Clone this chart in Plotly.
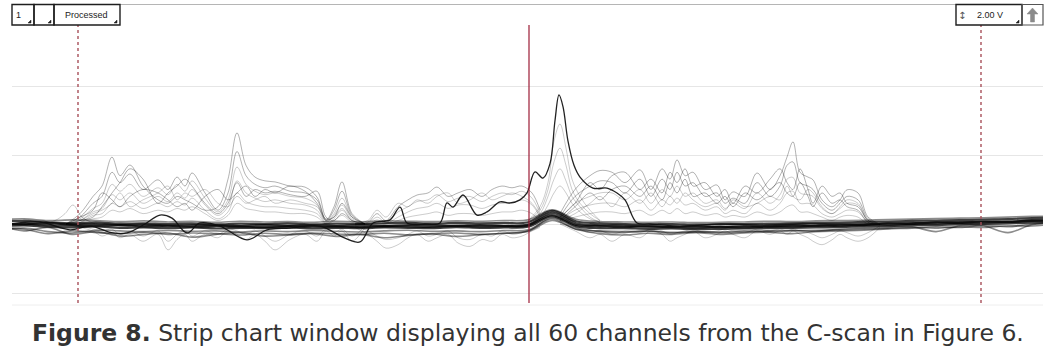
import plotly.graph_objects as go

# ---------------- data (x = sample position, y = volts) ----------------
base_x = [0, 24, 48, 72, 96, 120, 144, 168, 192, 216, 240, 264, 288, 312, 336, 360, 384, 408, 432, 456,
          480, 504, 528, 552, 576, 600, 624, 648, 672, 696, 720, 744, 768, 792, 816, 840, 864, 888, 912,
          936, 960, 984, 1008, 1032, 1056]
chan_base1 = [0.06, 0.09, 0.05, 0.02, 0.05, 0.01, 0.02, 0.0, 0.02, -0.01, 0.01, 0.0, 0.02, -0.01, 0.01, 0.0, 0.02, 0.03, 0.01, 0.03, 0.02, 0.03, 0.05, 0.38, 0.08, 0.02, 0.0, -0.01, 0.0, -0.02, -0.01, 0.0, 0.01, 0.02, 0.03, 0.04, 0.06, 0.07, 0.09, 0.1, 0.11, 0.13, 0.14, 0.17, 0.18]
chan_base2 = [-0.07, -0.04, -0.08, -0.1, -0.07, -0.11, -0.1, -0.12, -0.1, -0.13, -0.11, -0.12, -0.1, -0.13, -0.11, -0.12, -0.1, -0.11, -0.12, -0.09, -0.11, -0.1, -0.08, 0.22, -0.06, -0.12, -0.12, -0.14, -0.13, -0.15, -0.14, -0.13, -0.12, -0.11, -0.1, -0.09, -0.07, -0.06, -0.04, -0.03, -0.01, 0.0, 0.02, 0.04, 0.06]
chan_base3 = [0.02, -0.01, 0.03, -0.02, 0.0, -0.03, -0.02, -0.05, -0.03, -0.04, -0.06, -0.03, -0.05, -0.04, -0.06, -0.04, -0.06, -0.03, -0.04, -0.05, -0.03, -0.05, -0.02, 0.32, 0.02, -0.04, -0.05, -0.06, -0.08, -0.06, -0.09, -0.06, -0.07, -0.04, -0.05, -0.02, -0.03, 0.02, 0.0, 0.05, 0.03, 0.08, 0.06, 0.11, 0.1]
chan_base4 = [-0.02, 0.01, -0.03, -0.04, -0.05, -0.03, -0.07, -0.05, -0.08, -0.06, -0.07, -0.09, -0.06, -0.08, -0.07, -0.09, -0.06, -0.07, -0.08, -0.05, -0.07, -0.06, -0.04, 0.26, -0.03, -0.06, -0.08, -0.08, -0.09, -0.1, -0.08, -0.1, -0.07, -0.07, -0.05, -0.05, -0.02, -0.02, 0.01, 0.02, 0.04, 0.05, 0.07, 0.09, 0.1]
chan_base5 = [0.12, 0.15, 0.1, 0.12, 0.1, 0.07, 0.09, 0.06, 0.08, 0.05, 0.08, 0.06, 0.07, 0.05, 0.08, 0.06, 0.09, 0.08, 0.07, 0.09, 0.08, 0.1, 0.12, 0.41, 0.14, 0.07, 0.06, 0.05, 0.06, 0.04, 0.05, 0.06, 0.08, 0.07, 0.09, 0.1, 0.11, 0.13, 0.14, 0.16, 0.17, 0.18, 0.2, 0.22, 0.23]
chan_base6 = [-0.18, -0.12, -0.22, -0.26, -0.18, -0.2, -0.22, -0.19, -0.21, -0.2, -0.23, -0.2, -0.22, -0.19, -0.21, -0.23, -0.2, -0.18, -0.21, -0.2, -0.22, -0.19, -0.17, 0.15, -0.15, -0.2, -0.22, -0.21, -0.24, -0.22, -0.23, -0.2, -0.22, -0.2, -0.18, -0.17, -0.15, -0.13, -0.1, -0.12, -0.08, -0.1, -0.05, -0.06, 0.0]
chan_base7 = [-0.1, -0.15, -0.28, -0.2, -0.25, -0.28, -0.24, -0.3, -0.26, -0.28, -0.32, -0.27, -0.3, -0.26, -0.29, -0.3, -0.27, -0.31, -0.28, -0.26, -0.3, -0.27, -0.2, 0.18, -0.1, -0.22, -0.25, -0.2, -0.26, -0.22, -0.25, -0.23, -0.2, -0.18, -0.21, -0.15, -0.12, -0.1, -0.08, -0.22, -0.05, -0.06, -0.25, -0.02, 0.02]
chan_base8 = [-0.05, -0.2, -0.1, -0.3, -0.22, -0.35, -0.3, -0.26, -0.38, -0.3, -0.25, -0.35, -0.32, -0.28, -0.36, -0.3, -0.4, -0.33, -0.29, -0.36, -0.31, -0.27, -0.22, 0.1, -0.15, -0.28, -0.32, -0.27, -0.3, -0.25, -0.3, -0.26, -0.24, -0.28, -0.22, -0.2, -0.18, -0.14, -0.12, -0.08, -0.1, -0.04, -0.08, 0.0, 0.05]

region_l_x = [40, 55, 65, 73, 82, 95]
chan_l1 = [0.0, 0.1, 0.3, 0.55, 0.2, 0.0]

region_a_x = [66, 80, 93, 102, 112, 120, 130, 143, 158, 168, 177, 185, 192, 205, 218, 228, 237, 246, 255,
              265, 275, 290, 305, 317, 326, 334, 342, 352, 365]
chan_a1 = [0.0, 0.3, 0.8, 1.1, 1.94, 1.4, 1.71, 1.1, 0.7, 0.6, 0.8, 0.7, 0.6, 0.4, 0.5, 1.3, 2.64, 1.7, 1.36, 1.25, 1.22, 1.1, 1.07, 0.78, 0.12, 0.5, 1.22, 0.3, 0.0]
chan_a2 = [0.0, 0.2, 0.6, 0.8, 1.5, 1.2, 1.45, 1.0, 1.28, 1.0, 1.36, 1.1, 1.48, 0.9, 0.4, 0.9, 2.1, 1.4, 1.15, 1.05, 1.1, 0.95, 0.9, 0.7, 0.1, 0.4, 0.95, 0.25, 0.0]
chan_a3 = [0.0, 0.15, 0.45, 0.6, 1.15, 0.95, 1.15, 0.8, 1.05, 0.85, 1.15, 0.95, 1.25, 0.75, 0.35, 0.7, 1.65, 1.15, 0.95, 0.85, 0.9, 0.8, 0.75, 0.55, 0.08, 0.3, 0.75, 0.2, 0.0]
chan_a4 = [0.0, 0.1, 0.35, 0.45, 0.85, 0.7, 0.9, 0.6, 0.8, 0.65, 0.9, 0.75, 1.0, 0.55, 0.25, 0.5, 1.25, 0.9, 0.75, 0.65, 0.7, 0.6, 0.55, 0.4, 0.05, 0.25, 0.55, 0.15, 0.0]
chan_a5 = [0.0, 0.05, 0.25, 0.3, 0.6, 0.5, 0.65, 0.45, 0.6, 0.5, 0.65, 0.55, 0.75, 0.4, 0.15, 0.35, 0.9, 0.65, 0.55, 0.5, 0.5, 0.45, 0.4, 0.3, 0.02, 0.15, 0.4, 0.1, 0.0]
chan_a6 = [0.0, 0.05, 0.15, 0.2, 0.4, 0.35, 0.45, 0.3, 0.4, 0.35, 0.45, 0.4, 0.5, 0.3, 0.1, 0.25, 0.6, 0.45, 0.4, 0.35, 0.35, 0.3, 0.3, 0.2, 0.0, 0.1, 0.25, 0.05, 0.0]
chan_a7 = [0.0, 0.1, 0.2, 0.5, 0.9, 1.2, 1.6, 1.3, 0.6, 0.9, 1.1, 1.3, 1.1, 0.6, 0.3, 0.6, 1.2, 0.8, 1.0, 0.9, 0.95, 0.85, 0.8, 0.95, 0.2, 0.1, 0.3, 0.1, 0.0]
chan_a8 = [0.0, -0.1, -0.2, -0.35, -0.25, -0.4, -0.3, -0.5, -0.3, -0.75, -0.45, -0.3, -0.5, -0.3, -0.4, -0.2, -0.3, -0.45, -0.3, -0.5, -0.75, -0.45, -0.3, -0.5, -0.2, -0.35, -0.2, -0.5, -0.1]
chan_a9 = [0.0, -0.05, -0.15, -0.2, -0.15, -0.3, -0.2, -0.35, -0.2, -0.5, -0.3, -0.2, -0.35, -0.2, -0.3, -0.15, -0.2, -0.3, -0.2, -0.35, -0.5, -0.3, -0.2, -0.35, -0.15, -0.25, -0.15, -0.35, -0.05]
chan_a10 = [0.0, 0.2, 0.4, 0.9, 0.7, 0.5, 0.8, 1.0, 0.9, 0.7, 0.5, 0.6, 0.4, 0.8, 1.0, 0.7, 0.9, 1.1, 0.8, 1.0, 0.9, 1.1, 0.95, 0.6, 0.15, 0.2, 0.6, 0.2, 0.0]
chan_a11 = [0.0, 0.1, 0.3, 0.4, 0.6, 0.9, 0.5, 0.7, 0.9, 1.1, 0.7, 0.9, 0.8, 1.0, 0.6, 0.5, 0.8, 0.6, 0.7, 0.8, 0.6, 0.7, 0.6, 0.5, 0.1, 0.2, 0.45, 0.1, 0.0]

region_b_x = [355, 368, 377, 386, 398, 408, 417, 428, 437, 448, 458, 470, 482, 492, 502, 512, 522, 532, 540]
chan_b1 = [0.0, 0.05, 0.3, 0.1, 0.5, 0.7, 0.84, 0.9, 1.07, 0.8, 0.9, 1.0, 0.8, 1.0, 1.1, 1.05, 1.1, 0.9, 0.4]
chan_b2 = [0.0, 0.02, 0.2, 0.05, 0.35, 0.5, 0.65, 0.7, 0.85, 0.65, 0.75, 0.8, 0.65, 0.8, 0.9, 0.85, 0.95, 0.75, 0.3]
chan_b3 = [0.0, 0.0, 0.12, 0.02, 0.2, 0.35, 0.45, 0.5, 0.6, 0.45, 0.55, 0.55, 0.45, 0.55, 0.6, 0.6, 0.7, 0.55, 0.2]
chan_b4 = [0.0, 0.0, 0.05, 0.0, 0.1, 0.2, 0.25, 0.3, 0.35, 0.25, 0.3, 0.3, 0.25, 0.3, 0.35, 0.35, 0.4, 0.3, 0.1]
chan_b5 = [-0.1, -0.3, -0.5, -0.7, -0.6, -0.4, -0.3, -0.5, -0.4, -0.3, -0.55, -0.65, -0.45, -0.5, -0.3, -0.4, -0.35, -0.2, -0.1]
chan_b6 = [-0.05, -0.2, -0.35, -0.45, -0.4, -0.3, -0.2, -0.35, -0.3, -0.2, -0.4, -0.45, -0.3, -0.35, -0.2, -0.3, -0.25, -0.15, -0.05]
chan_b7 = [0.0, 0.1, 0.4, 0.2, 0.6, 0.5, 0.7, 0.6, 0.8, 0.9, 0.6, 0.7, 0.9, 0.7, 0.8, 0.9, 0.8, 0.6, 0.25]

region_p_x = [528, 540, 548, 554, 560, 566, 572, 580, 590, 600]
chan_p1 = [0.1, 0.5, 1.2, 2.4, 2.9, 2.2, 1.3, 0.8, 0.4, 0.1]
chan_p2 = [0.1, 0.4, 1.0, 1.8, 2.2, 1.7, 1.0, 0.6, 0.3, 0.1]
chan_p3 = [0.05, 0.3, 0.8, 1.3, 1.6, 1.25, 0.8, 0.5, 0.2, 0.05]
chan_p4 = [0.05, 0.2, 0.55, 0.9, 1.1, 0.9, 0.6, 0.35, 0.15, 0.05]

region_c_x = [560, 575, 590, 600, 612, 625, 640, 651, 662, 670, 677, 685, 693, 705, 717, 725, 733, 745, 757,
              770, 780, 787, 793, 800, 808, 813, 822, 832, 840, 847, 858, 868, 880]
chan_c1 = [0.3, 1.0, 1.4, 1.55, 1.5, 1.2, 1.57, 1.0, 1.6, 1.3, 1.86, 1.4, 1.5, 1.0, 1.13, 0.7, 0.93, 0.8, 1.48, 1.0, 1.4, 1.94, 2.38, 1.5, 1.36, 1.28, 0.7, 0.5, 0.7, 0.99, 0.9, 0.2, 0.0]
chan_c2 = [0.2, 0.8, 1.1, 1.25, 1.2, 0.9, 1.3, 0.8, 1.3, 1.0, 1.5, 1.1, 1.2, 0.8, 0.9, 0.6, 0.75, 0.6, 1.2, 0.8, 1.1, 1.7, 1.8, 1.2, 1.1, 1.0, 0.6, 0.4, 0.6, 0.8, 0.7, 0.15, 0.0]
chan_c3 = [0.15, 0.6, 0.8, 0.9, 0.9, 0.7, 1.0, 0.6, 1.0, 0.8, 1.1, 0.8, 0.9, 0.6, 0.7, 0.45, 0.6, 0.45, 0.9, 0.6, 0.85, 1.3, 1.35, 0.9, 0.85, 0.8, 0.45, 0.3, 0.45, 0.6, 0.55, 0.1, 0.0]
chan_c4 = [0.1, 0.4, 0.55, 0.6, 0.6, 0.5, 0.7, 0.4, 0.7, 0.55, 0.75, 0.55, 0.6, 0.4, 0.5, 0.3, 0.4, 0.3, 0.6, 0.4, 0.6, 0.9, 0.95, 0.6, 0.6, 0.55, 0.3, 0.2, 0.3, 0.4, 0.35, 0.05, 0.0]
chan_c5 = [0.05, 0.2, 0.3, 0.35, 0.35, 0.3, 0.4, 0.25, 0.4, 0.3, 0.45, 0.3, 0.35, 0.25, 0.3, 0.2, 0.25, 0.2, 0.35, 0.25, 0.35, 0.5, 0.55, 0.35, 0.35, 0.3, 0.2, 0.1, 0.2, 0.25, 0.2, 0.0, 0.0]
chan_c6 = [0.2, 0.6, 1.2, 1.0, 1.4, 1.5, 1.0, 1.3, 0.9, 1.5, 1.2, 1.6, 1.1, 1.2, 0.8, 1.0, 0.6, 1.1, 0.9, 1.3, 1.6, 1.2, 1.0, 1.6, 1.0, 0.6, 1.1, 0.8, 0.9, 0.6, 0.5, 0.1, 0.0]
chan_c7 = [0.0, -0.2, -0.4, -0.3, -0.5, -0.3, -0.4, -0.2, -0.3, -0.5, -0.4, -0.3, -0.2, -0.4, -0.3, -0.2, -0.3, -0.4, -0.2, -0.3, -0.2, -0.3, -0.2, -0.3, -0.4, -0.5, -0.6, -0.46, -0.3, -0.4, -0.5, -0.4, -0.1]
chan_c8 = [0.0, -0.1, -0.25, -0.2, -0.3, -0.2, -0.25, -0.15, -0.2, -0.3, -0.25, -0.2, -0.15, -0.25, -0.2, -0.15, -0.2, -0.25, -0.15, -0.2, -0.15, -0.2, -0.15, -0.2, -0.25, -0.3, -0.4, -0.3, -0.2, -0.25, -0.35, -0.25, -0.05]
chan_c9 = [0.1, 0.5, 0.9, 0.7, 1.0, 1.1, 0.8, 1.1, 0.7, 1.2, 0.9, 1.3, 0.8, 0.9, 0.6, 0.8, 0.5, 0.9, 0.7, 1.0, 1.2, 0.9, 0.8, 1.2, 0.8, 0.5, 0.9, 0.6, 0.7, 0.5, 0.4, 0.05, 0.0]
chan_c10 = [0.1, 0.3, 0.6, 0.8, 0.5, 0.9, 0.6, 0.9, 0.5, 0.8, 0.6, 0.9, 0.7, 0.5, 0.6, 0.4, 0.7, 0.5, 0.6, 0.8, 0.7, 1.1, 0.8, 0.7, 1.0, 0.9, 0.5, 0.3, 0.5, 0.7, 0.6, 0.1, 0.0]

black_x = [12, 40, 70, 90, 113, 127, 145, 160, 172, 187, 200, 220, 247, 267, 290, 320, 345, 360, 373, 390,
           400, 407, 425, 440, 447, 453, 463, 477, 487, 500, 510, 520, 527, 535, 543, 550, 555, 559, 563, 568,
           574, 580, 593, 607, 617, 625, 637, 650, 680, 720, 760, 800, 850, 900, 950, 1000, 1043]
black_y = [0.0, 0.06, -0.17, -0.06, -0.26, -0.26, 0.0, 0.26, 0.17, -0.26, 0.03, -0.06, -0.46, -0.17, -0.12,
           -0.06, -0.41, -0.52, 0.03, 0.12, 0.49, 0.03, 0.0, 0.03, 0.61, 0.49, 0.84, 0.26, 0.35, 0.64, 0.61,
           0.7, 0.9, 1.51, 1.33, 1.75, 3.0, 3.74, 3.4, 2.4, 1.7, 1.36, 1.04, 1.04, 0.9, 0.7, 0.03, 0.0, -0.06,
           0.0, -0.03, 0.0, 0.0, 0.03, 0.06, 0.06, 0.09]

grid_vals = [-2, 0, 2, 4]
cursor_solid = [529]
cursor_dotted = [78, 981]
caption = "<b>Figure 8.</b> Strip chart window displaying all 60 channels from the C-scan in Figure 6."
scale_label = "2.00 V"

# ---------------- figure ----------------
fig = go.Figure()

def add(xs, ys, color, width):
    fig.add_trace(go.Scatter(x=xs, y=ys, mode="lines", hoverinfo="skip", showlegend=False,
                             line=dict(color=color, width=width, shape="spline", smoothing=1.0)))

light = "rgba(0,0,0,0.20)"
mid = "rgba(0,0,0,0.30)"
dip = "rgba(0,0,0,0.20)"

add(region_l_x, chan_l1, light, 1)
for ch in [chan_a6, chan_a5, chan_a4, chan_a3, chan_a11]:
    add(region_a_x, ch, light, 1)
for ch in [chan_a2, chan_a1, chan_a7, chan_a10]:
    add(region_a_x, ch, mid, 1)
for ch in [chan_a8, chan_a9]:
    add(region_a_x, ch, dip, 1)
for ch in [chan_b4, chan_b3, chan_b2, chan_b7]:
    add(region_b_x, ch, light, 1)
add(region_b_x, chan_b1, mid, 1)
for ch in [chan_b5, chan_b6]:
    add(region_b_x, ch, dip, 1)
for ch in [chan_p4, chan_p3, chan_p2, chan_p1]:
    add(region_p_x, ch, light, 1)
for ch in [chan_c5, chan_c4, chan_c3, chan_c10]:
    add(region_c_x, ch, light, 1)
for ch in [chan_c2, chan_c1, chan_c6, chan_c9]:
    add(region_c_x, ch, mid, 1)
for ch in [chan_c7, chan_c8]:
    add(region_c_x, ch, dip, 1)

for ch in [chan_base8, chan_base7, chan_base6, chan_base5]:
    add(base_x, ch, "rgba(0,0,0,0.45)", 1.6)
for ch in [chan_base1, chan_base2, chan_base3, chan_base4]:
    add(base_x, ch, "rgba(0,0,0,0.75)", 2.2)

add(black_x, black_y, "rgba(15,15,15,0.92)", 1.3)

W, H = 1051, 356
L, R, T, B = 12, 8, 25, 53
PW, PH = W - L - R, H - T - B
V_PER_PX = 2 / 69
y_top = (224 - T) * V_PER_PX
y_bot = -(H - B - 224) * V_PER_PX

def fx(px):
    return (px - L) / PW

def fy(py):
    return (H - B - py) / PH

shapes = []
for xv in cursor_solid:
    shapes.append(dict(type="line", xref="x", yref="paper", x0=xv, x1=xv, y0=0, y1=1,
                       line=dict(color="#9c1c34", width=1.2), layer="above"))
for xv in cursor_dotted:
    shapes.append(dict(type="line", xref="x", yref="paper", x0=xv, x1=xv, y0=0, y1=1,
                       line=dict(color="#a8505a", width=1.4, dash="dot"), layer="above"))

shapes.append(dict(type="line", xref="paper", yref="paper", x0=0, x1=1, y0=fy(305), y1=fy(305),
                   line=dict(color="#eeeeee", width=1)))
shapes.append(dict(type="line", xref="paper", yref="paper", x0=fx(12), x1=fx(1043), y0=fy(4.5), y1=fy(4.5),
                   line=dict(color="#b5b5b5", width=1)))
for (a, b) in [(12, 34), (34, 54), (54, 120), (956, 1022)]:
    shapes.append(dict(type="rect", xref="paper", yref="paper", x0=fx(a), x1=fx(b), y0=fy(25), y1=fy(4.5),
                       line=dict(color="#1e1e1e", width=1.4)))
shapes.append(dict(type="rect", xref="paper", yref="paper", x0=fx(1022), x1=fx(1043), y0=fy(25), y1=fy(4.5),
                   line=dict(color="#555555", width=1.2)))

def tri(xr, yb):
    return "M {} {} L {} {} L {} {} Z".format(fx(xr - 3), fy(yb), fx(xr), fy(yb), fx(xr), fy(yb - 3))

for xr in [31, 51, 117, 1019]:
    shapes.append(dict(type="path", xref="paper", yref="paper", path=tri(xr, 23),
                       fillcolor="#222222", line=dict(color="#222222", width=0.5)))

arrow_pts = [(1032.5, 8), (1038, 14), (1034.5, 14), (1034.5, 22), (1030.5, 22), (1030.5, 14), (1027, 14)]
arrow_path = "M " + " L ".join("{} {}".format(fx(a), fy(b)) for a, b in arrow_pts) + " Z"
shapes.append(dict(type="path", xref="paper", yref="paper", path=arrow_path,
                   fillcolor="#8a8a8a", line=dict(color="#8a8a8a", width=0.5)))

tb_font = dict(family="Liberation Sans, Arial, sans-serif", size=9, color="#222222")
annotations = [
    dict(text="1", x=fx(18), y=fy(15), xref="paper", yref="paper", showarrow=False, font=tb_font,
         xanchor="center", yanchor="middle"),
    dict(text="Processed", x=fx(86), y=fy(15), xref="paper", yref="paper", showarrow=False, font=tb_font,
         xanchor="center", yanchor="middle"),
    dict(text="↕", x=fx(962), y=fy(15), xref="paper", yref="paper", showarrow=False,
         font=dict(family="DejaVu Sans", size=10, color="#555555"), xanchor="center", yanchor="middle"),
    dict(text=scale_label, x=fx(990), y=fy(15), xref="paper", yref="paper", showarrow=False, font=tb_font,
         xanchor="center", yanchor="middle"),
    dict(text=caption, x=fx(528), y=fy(333), xref="paper", yref="paper", showarrow=False,
         font=dict(family="DejaVu Sans", size=23.5, color="#333333"), xanchor="center", yanchor="middle"),
]

fig.update_layout(
    width=W, height=H,
    margin=dict(l=L, r=R, t=T, b=B, pad=0),
    paper_bgcolor="white", plot_bgcolor="white",
    xaxis=dict(range=[12, 1043], showgrid=False, zeroline=False, showticklabels=False, ticks="",
               showline=False, fixedrange=True),
    yaxis=dict(range=[y_bot, y_top], tickvals=grid_vals, showgrid=True, gridcolor="#e6e6e6", gridwidth=1,
               zeroline=False, showticklabels=False, ticks="", showline=False, fixedrange=True),
    shapes=shapes,
    annotations=annotations,
)

fig.write_html("out.html")
